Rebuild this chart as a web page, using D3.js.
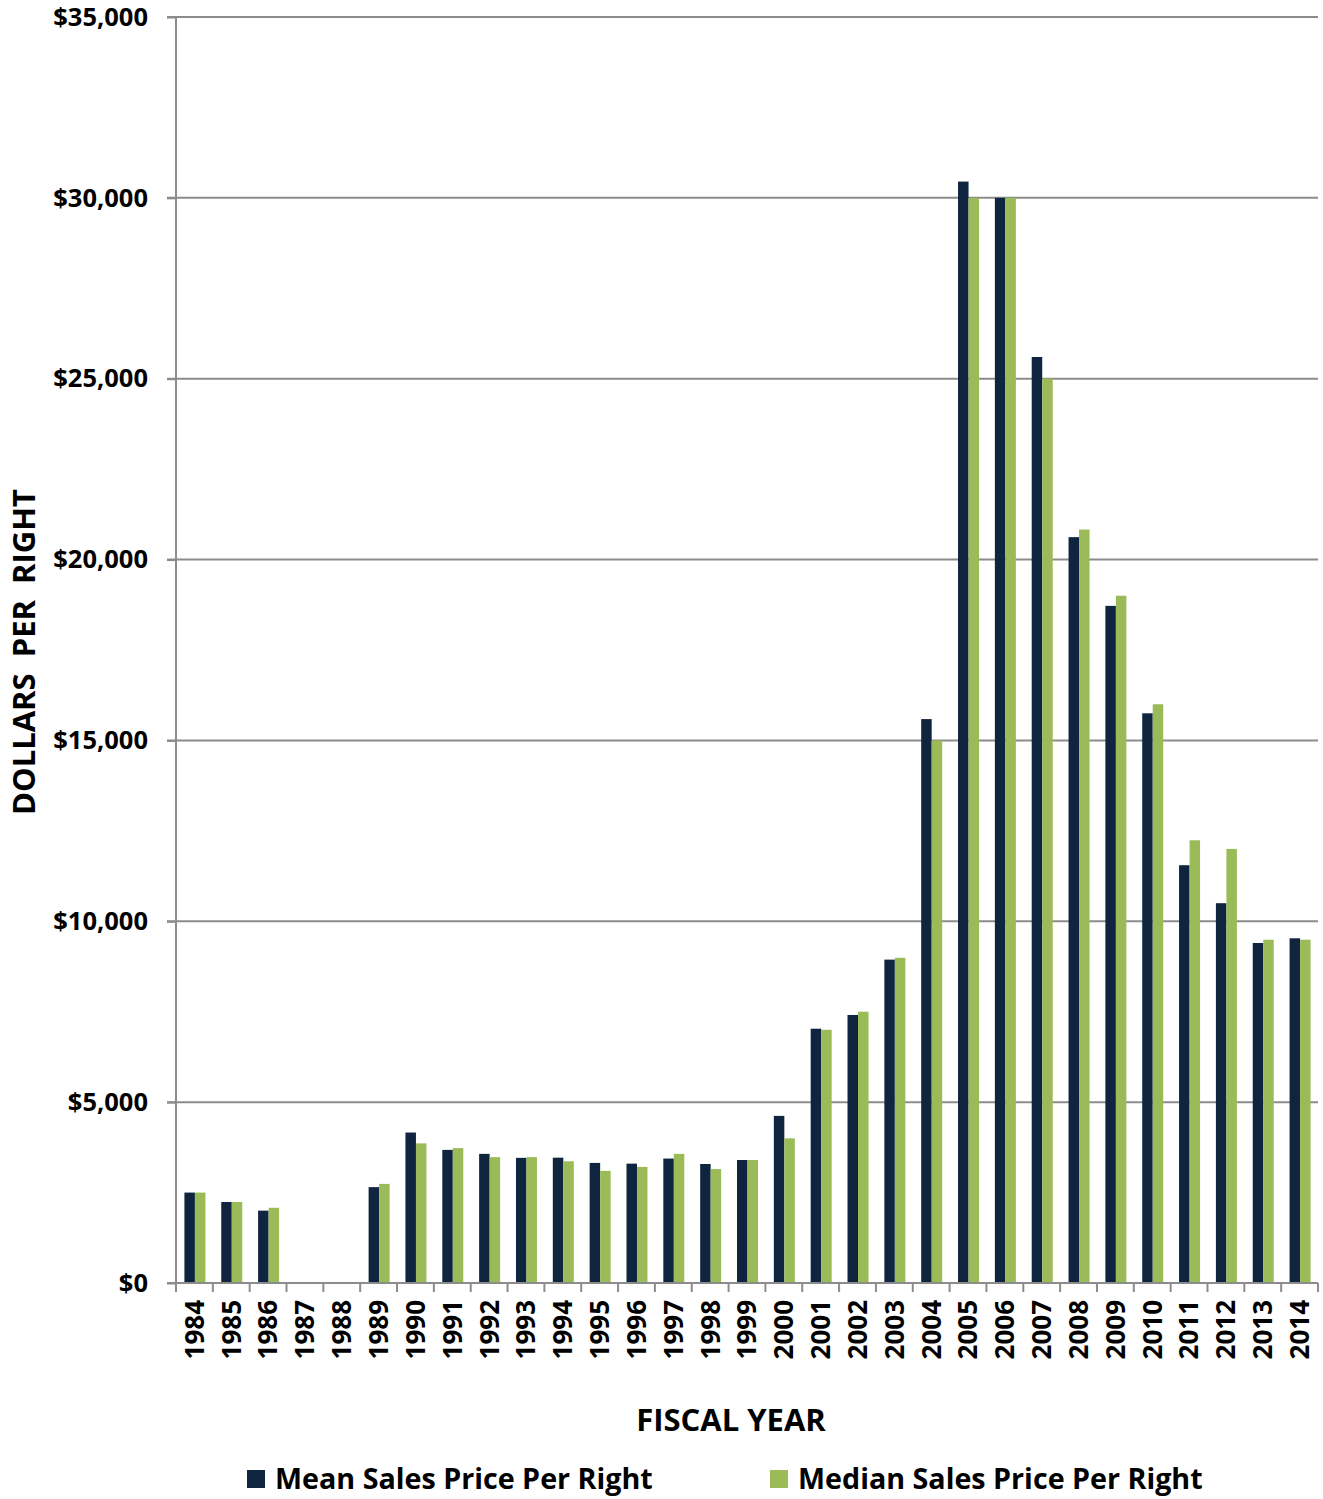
<!DOCTYPE html>
<html>
<head>
<meta charset="utf-8">
<script src="https://cdn.jsdelivr.net/npm/d3@7"></script>
<style>
  html, body { margin: 0; padding: 0; background: #fff; }
  svg { display: block; font-family: "Open Sans", sans-serif; font-weight: bold; }
</style>
</head>
<body>
<svg id="chart" width="1323" height="1499"></svg>
<script>
const years = ["1984","1985","1986","1987","1988","1989","1990","1991","1992","1993","1994","1995","1996","1997","1998","1999","2000","2001","2002","2003","2004","2005","2006","2007","2008","2009","2010","2011","2012","2013","2014"];
const meanPrice = [2500, 2240, 2000, null, null, 2650, 4160, 3680, 3570, 3460, 3465, 3320, 3300, 3440, 3290, 3400, 4620, 7030, 7410, 8940, 15590, 30450, 30000, 25600, 20620, 18720, 15750, 11550, 10500, 9400, 9530];
const medianPrice = [2500, 2240, 2080, null, null, 2740, 3860, 3730, 3480, 3480, 3365, 3100, 3210, 3570, 3150, 3400, 4000, 7000, 7500, 8990, 15000, 30000, 30000, 25000, 20830, 19000, 16000, 12240, 12000, 9490, 9490];
const seriesNames = ["Mean Sales Price Per Right", "Median Sales Price Per Right"];
const seriesColors = ["#0F243E", "#9BBB59"];
const yTicks = [0, 5000, 10000, 15000, 20000, 25000, 30000, 35000];
const xTitle = "FISCAL YEAR";
const yTitle = "DOLLARS\u00A0\u00A0PER\u00A0\u00A0RIGHT";

const svg = d3.select("#chart");
const margin = {left: 176, right: 5, top: 17, bottom: 216};
const W = 1323, H = 1499;
const innerW = W - margin.left - margin.right;
const innerH = H - margin.top - margin.bottom;
const gridColor = "#8C8C8C";

const x = d3.scaleBand().domain(years).range([0, innerW]).paddingInner(0).paddingOuter(0);
const groupW = x.bandwidth() * 0.57;
const xs = d3.scaleBand().domain([0, 1]).range([(x.bandwidth() - groupW) / 2 + 0.5, (x.bandwidth() + groupW) / 2 + 0.5]);
const y = d3.scaleLinear().domain([0, 35000]).range([innerH, 0]);

const g = svg.append("g").attr("transform", `translate(${margin.left},${margin.top})`);

// gridlines
g.append("g").selectAll("line").data(yTicks.filter(d => d > 0)).join("line")
  .attr("x1", -9).attr("x2", innerW)
  .attr("y1", d => y(d)).attr("y2", d => y(d))
  .attr("stroke", gridColor).attr("stroke-width", 2);

// y axis
const yAxis = d3.axisLeft(y).tickValues(yTicks).tickSize(9).tickPadding(19)
  .tickFormat(d => "$" + d3.format(",")(d));
const yg = g.append("g").call(yAxis);
yg.select(".domain").attr("stroke", gridColor).attr("stroke-width", 2).attr("d", `M0,0V${innerH + 9}`);
yg.selectAll(".tick line").attr("stroke", gridColor).attr("stroke-width", 2);
yg.selectAll(".tick text").attr("font-size", 25.5).attr("font-family", "Open Sans").attr("font-weight", "bold").attr("fill", "#000");

// bars
const data = years.map((yr, i) => ({yr, vals: [meanPrice[i], medianPrice[i]]}));
const grp = g.append("g").selectAll("g").data(data).join("g")
  .attr("transform", d => `translate(${x(d.yr)},0)`);
grp.selectAll("rect").data(d => d.vals.map((v, k) => ({v, k})).filter(e => e.v != null)).join("rect")
  .attr("x", e => xs(e.k)).attr("width", xs.bandwidth())
  .attr("y", e => y(e.v)).attr("height", e => innerH - y(e.v))
  .attr("fill", e => seriesColors[e.k]);

// x axis
const xAxis = d3.axisBottom(x).tickSize(0).tickPadding(0);
const xg = g.append("g").attr("transform", `translate(0,${innerH})`).call(xAxis);
xg.select(".domain").attr("stroke", gridColor).attr("stroke-width", 2).attr("d", `M-9,0H${innerW}`);
xg.selectAll(".tick text")
  .attr("transform", "rotate(-90)")
  .attr("text-anchor", "end")
  .attr("x", -17).attr("y", 0).attr("dy", "0.36em")
  .attr("font-size", 26).attr("font-family", "Open Sans").attr("font-weight", "bold").attr("fill", "#000");
// boundary ticks
g.append("g").selectAll("line").data(d3.range(years.length + 1)).join("line")
  .attr("x1", i => i * x.step()).attr("x2", i => i * x.step())
  .attr("y1", innerH).attr("y2", innerH + 9)
  .attr("stroke", gridColor).attr("stroke-width", 2);

// titles
svg.append("text").attr("x", 731).attr("y", 1431).attr("text-anchor", "middle")
  .attr("font-size", 31).attr("fill", "#000").attr("letter-spacing", 0).text(xTitle);
svg.append("text").attr("transform", "translate(35,652) rotate(-90)").attr("text-anchor", "middle")
  .attr("font-size", 31).attr("fill", "#000").text(yTitle);

// legend
const legendX = [247, 770];
const lg = svg.append("g").selectAll("g").data(seriesNames).join("g")
  .attr("transform", (d, i) => `translate(${legendX[i]},1470)`);
lg.append("rect").attr("width", 18).attr("height", 18).attr("fill", (d, i) => seriesColors[i]);
lg.append("text").attr("x", 28).attr("y", 19).attr("font-size", 28.7).attr("fill", "#000").text(d => d);
</script>
</body>
</html>
